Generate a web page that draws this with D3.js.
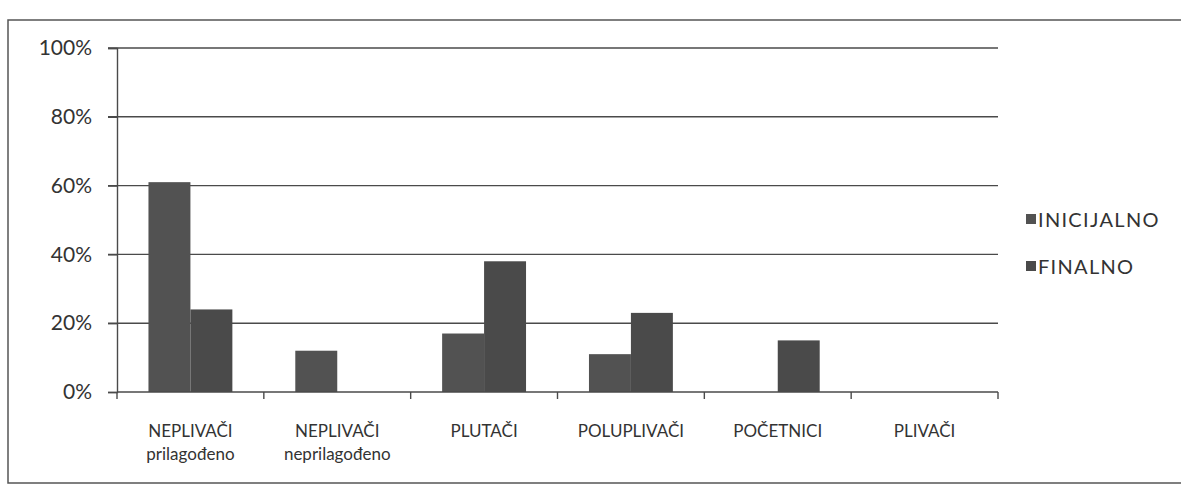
<!DOCTYPE html>
<html>
<head>
<meta charset="utf-8">
<script src="https://cdn.jsdelivr.net/npm/d3@7"></script>
<style>
  body { margin: 0; background: #fff; }
  svg { font-family: Lato, "Open Sans", sans-serif; }
</style>
</head>
<body>
<script>
// categories (two lines each)
var catLine1 = ["NEPLIVAČI", "NEPLIVAČI", "PLUTAČI", "POLUPLIVAČI", "POČETNICI", "PLIVAČI"];
var catLine2 = ["prilagođeno", "neprilagođeno", "", "", "", ""];
var series = ["INICIJALNO", "FINALNO"];
var inicijalno = [61, 12, 17, 11, 0, 0];
var finalno = [24, 0, 38, 23, 15, 0];
var yTicks = [0, 20, 40, 60, 80, 100];

var W = 1181, H = 490;
var plot = {left: 117, right: 998, top: 48, bottom: 392};

var svg = d3.select("body").append("svg")
    .attr("width", W)
    .attr("height", H);

// outer frame of the chart
svg.append("rect")
    .attr("x", 8).attr("y", 20)
    .attr("width", W + 10).attr("height", 463)
    .style("fill", "none")
    .style("stroke", "#555")
    .style("stroke-width", 1.5);

var x0 = d3.scaleBand()
    .domain(d3.range(catLine1.length))
    .range([plot.left, plot.right])
    .paddingInner(0).paddingOuter(0);

var x1 = d3.scaleBand()
    .domain(series)
    .range([0, x0.bandwidth()])
    .paddingInner(0).paddingOuter(0.75);

var y = d3.scaleLinear()
    .domain([0, 100])
    .range([plot.bottom, plot.top]);

//Gridlines
svg.append("g")
    .selectAll("line")
    .data(yTicks.slice(1))
    .enter().append("line")
    .attr("x1", plot.left - 9)
    .attr("x2", plot.right)
    .attr("y1", function(d) { return y(d); })
    .attr("y2", function(d) { return y(d); })
    .style("stroke", "#4a4a4a")
    .style("stroke-width", 1.4);

//Y axis
var yAxis = d3.axisLeft(y).tickValues(yTicks).tickSize(9).tickPadding(16)
    .tickFormat(function(d) { return d + "%"; });
var gy = svg.append("g")
    .attr("transform", "translate(" + plot.left + ",0)")
    .call(yAxis);
gy.select(".domain").style("stroke", "#4a4a4a").style("stroke-width", 1.4);
gy.selectAll(".tick line").style("stroke", "#4a4a4a").style("stroke-width", 1.4);
gy.selectAll("text")
    .style("font-size", "21px")
    .style("fill", "#333")
    .style("font-family", "Lato, sans-serif");

//Bars
var rows = catLine1.map(function(c, i) {
    return {i: i, vals: [{s: "INICIJALNO", v: inicijalno[i]}, {s: "FINALNO", v: finalno[i]}]};
});
var colors = {INICIJALNO: "#525252", FINALNO: "#4a4a4a"};

svg.append("g").selectAll("g")
    .data(rows)
    .enter().append("g")
    .attr("transform", function(d) { return "translate(" + x0(d.i) + ",0)"; })
    .selectAll("rect")
    .data(function(d) { return d.vals.filter(function(e) { return e.v > 0; }); })
    .enter().append("rect")
    .attr("x", function(d) { return x1(d.s); })
    .attr("width", x1.bandwidth())
    .attr("y", function(d) { return y(d.v); })
    .attr("height", function(d) { return y(0) - y(d.v); })
    .style("fill", function(d) { return colors[d.s]; });

//X axis line and ticks at category boundaries
svg.append("line")
    .attr("x1", plot.left).attr("x2", plot.right)
    .attr("y1", y(0)).attr("y2", y(0))
    .style("stroke", "#4a4a4a").style("stroke-width", 1.4);

var bounds = d3.range(catLine1.length + 1).map(function(i) { return plot.left + i * x0.step(); });
svg.append("g").selectAll("line")
    .data(bounds)
    .enter().append("line")
    .attr("x1", function(d) { return d; }).attr("x2", function(d) { return d; })
    .attr("y1", y(0)).attr("y2", y(0) + 7)
    .style("stroke", "#4a4a4a").style("stroke-width", 1.4);

//Category labels
var labels = svg.append("g").selectAll("text")
    .data(d3.range(catLine1.length))
    .enter().append("text")
    .attr("x", function(i) { return x0(i) + x0.bandwidth() / 2; })
    .attr("y", 437)
    .style("text-anchor", "middle")
    .style("font-size", "17px")
    .style("fill", "#333");
labels.append("tspan").text(function(i) { return catLine1[i]; });
labels.append("tspan")
    .attr("x", function(i) { return x0(i) + x0.bandwidth() / 2; })
    .attr("dy", 23)
    .text(function(i) { return catLine2[i]; });

//Legend
var legend = svg.append("g").selectAll("g")
    .data(series)
    .enter().append("g")
    .attr("transform", function(d, i) { return "translate(1026," + (220 + i * 47) + ")"; });
legend.append("rect")
    .attr("x", 0).attr("y", -6)
    .attr("width", 10).attr("height", 10)
    .style("fill", function(d) { return colors[d]; });
legend.append("text")
    .attr("x", 12).attr("y", 0)
    .attr("dy", "0.35em")
    .style("font-size", "20px")
    .style("letter-spacing", "1.3px")
    .style("fill", "#333")
    .text(function(d) { return d; });
</script>
</body>
</html>
